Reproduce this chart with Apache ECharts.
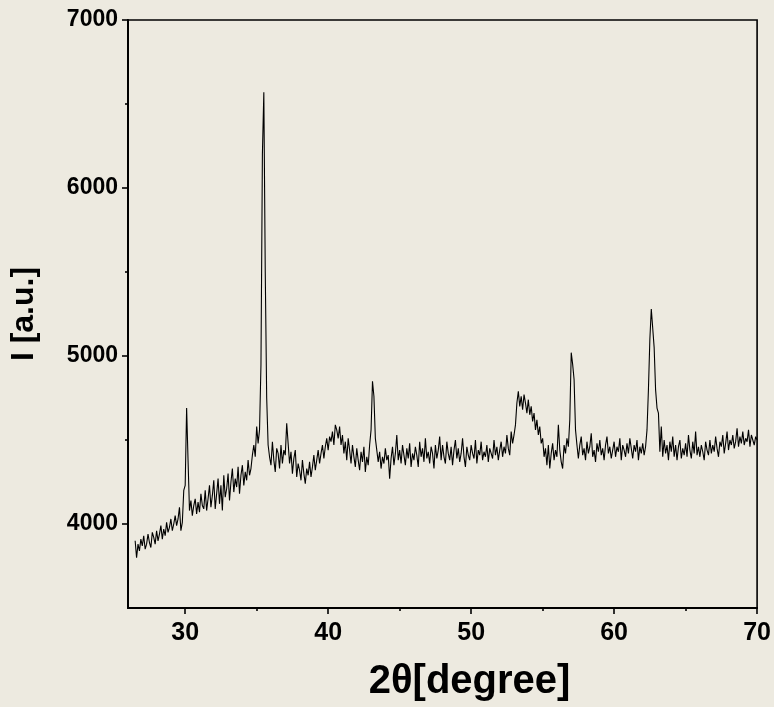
<!DOCTYPE html>
<html>
<head>
<meta charset="utf-8">
<script src="https://cdn.jsdelivr.net/npm/echarts@6/dist/echarts.min.js"></script>
<style>
html,body{margin:0;padding:0;background:#EDEAE0;}
#c{width:774px;height:707px;}
</style>
</head>
<body>
<div id="c"></div>
<script>
// scan grid (2θ, degrees)
const scanStart = 26.5;
const scanStep = 0.1;
// intensities (a.u.), one row per degree
const intensity = [
  3900, 3800, 3880, 3840, 3910,
  3870, 3930, 3850, 3880, 3940, 3890, 3860, 3950, 3920, 3880,
  3960, 3900, 3940, 3990, 3910, 3970, 3930, 4010, 3950, 3980,
  4030, 3960, 4000, 4050, 3990, 4030, 4100, 3960, 4010, 4200,
  4230, 4690, 4380, 4080, 4140, 4050, 4110, 4150, 4060, 4130,
  4070, 4180, 4110, 4090, 4200, 4080, 4150, 4230, 4100, 4170,
  4260, 4090, 4180, 4270, 4120, 4230, 4080, 4290, 4160, 4210,
  4300, 4140, 4250, 4330, 4190, 4270, 4220, 4340, 4180, 4290,
  4350, 4230, 4310, 4260, 4380, 4290, 4330, 4410, 4470, 4400,
  4580, 4480, 4560, 4950, 6200, 6570, 5500, 4750, 4470, 4400,
  4350, 4490, 4380, 4310, 4450, 4420, 4330, 4470, 4360, 4440,
  4410, 4600, 4480, 4360, 4430, 4300, 4390, 4440, 4280, 4360,
  4320, 4260, 4380, 4300, 4240, 4330, 4290, 4370, 4280, 4340,
  4410, 4320, 4380, 4440, 4360, 4420, 4470, 4390, 4460, 4510,
  4440, 4520, 4490, 4550, 4470, 4590, 4560, 4510, 4580, 4470,
  4530, 4420, 4490, 4380, 4510, 4440, 4360, 4470, 4400, 4340,
  4450, 4380, 4320, 4430, 4370, 4460, 4310, 4400, 4350, 4470,
  4560, 4850, 4760, 4510, 4500, 4370, 4430, 4330, 4400, 4360,
  4450, 4380, 4410, 4270, 4390, 4460, 4350, 4420, 4530, 4380,
  4440, 4360, 4470, 4410, 4350, 4450, 4390, 4480, 4340, 4420,
  4380, 4460, 4410, 4340, 4490, 4400, 4450, 4370, 4510, 4390,
  4430, 4360, 4460, 4420, 4330, 4470, 4390, 4440, 4520, 4380,
  4470, 4400, 4360, 4490, 4420, 4380, 4460, 4350, 4440, 4500,
  4390, 4450, 4370, 4420, 4510, 4400, 4340, 4460, 4410, 4380,
  4470, 4420, 4390, 4500, 4360, 4440, 4410, 4490, 4380, 4430,
  4400, 4470, 4370, 4450, 4420, 4390, 4500, 4410, 4460, 4380,
  4440, 4490, 4400, 4460, 4420, 4530, 4450, 4410, 4550, 4480,
  4530, 4590, 4720, 4790, 4700, 4760, 4680, 4770, 4720, 4660,
  4740, 4650, 4700, 4610, 4660, 4560, 4620, 4530, 4580, 4480,
  4510, 4400, 4450, 4350, 4470, 4330, 4420, 4480, 4380, 4440,
  4400, 4590, 4440, 4370, 4330, 4470, 4420, 4510, 4460, 4620,
  5020, 4950, 4860, 4560, 4470, 4390, 4470, 4520, 4410, 4450,
  4380, 4490, 4420, 4460, 4540, 4400, 4440, 4370, 4480, 4430,
  4500, 4410, 4450, 4380, 4470, 4520, 4420, 4460, 4390, 4440,
  4490, 4400, 4460, 4430, 4510, 4380, 4470, 4440, 4400, 4480,
  4420, 4510, 4450, 4390, 4470, 4430, 4500, 4380, 4460, 4420,
  4480, 4410, 4460, 4560, 4800, 5100, 5280, 5280, 5050, 4800,
  4690, 4660, 4430, 4580, 4400, 4500, 4420, 4470, 4380, 4490,
  4430, 4520, 4400, 4470, 4380, 4460, 4500, 4390, 4450, 4410,
  4480, 4400, 4530, 4440, 4390, 4490, 4420, 4550, 4410, 4460,
  4400, 4470, 4430, 4380, 4490, 4440, 4410, 4500, 4420, 4470,
  4430, 4520, 4450, 4400, 4490, 4460, 4530, 4420, 4480, 4550,
  4440, 4500, 4470, 4530, 4450, 4490, 4570, 4460, 4520, 4480,
  4550, 4470, 4510, 4490, 4560, 4460, 4530, 4500, 4470, 4520,
  4500
];
const xMajorTicks = [30, 40, 50, 60, 70];
const xMinorTicks = [35, 45, 55, 65];
const yMajorTicks = [4000, 5000, 6000, 7000];
const yMinorTicks = [4500, 5500, 6500];
const xTitle = '2θ[degree]';
const yTitle = 'I [a.u.]';

const data = intensity.map((v, i) => [+(scanStart + i * scanStep).toFixed(2), v]);

const font = '"Liberation Sans", Arial, sans-serif';
const chart = echarts.init(document.getElementById('c'), null, {renderer: 'canvas'});
const xRange = {min: 26, max: 70};
const yRange = {min: 3500, max: 7000};
const plain = v => String(v);
chart.setOption({
  backgroundColor: '#EDEAE0',
  animation: false,
  grid: {left: 128, right: 16, top: 20, bottom: 99, show: true, borderColor: '#000', borderWidth: 1.6, backgroundColor: 'transparent'},
  xAxis: [{
    type: 'value', ...xRange, position: 'bottom',
    axisLine: {show: true, onZero: false, lineStyle: {color: '#000', width: 2}},
    axisTick: {show: true, inside: false, length: 6, customValues: xMajorTicks, lineStyle: {color: '#000', width: 1.6}},
    axisLabel: {show: true, customValues: xMajorTicks, formatter: plain, margin: 13, color: '#000', fontFamily: font, fontWeight: 'bold', fontSize: 25},
    splitLine: {show: false},
    name: xTitle, nameLocation: 'middle', nameGap: 54,
    nameTextStyle: {color: '#000', fontFamily: font, fontWeight: 'bold', fontSize: 40, padding: [0, 0, 0, 54]}
  }, {
    type: 'value', ...xRange, position: 'bottom',
    axisLine: {show: false},
    axisTick: {show: true, length: 3, customValues: xMinorTicks, lineStyle: {color: '#000', width: 1.6}},
    axisLabel: {show: false}, splitLine: {show: false}
  }],
  yAxis: [{
    type: 'value', ...yRange, position: 'left',
    axisLine: {show: true, onZero: false, lineStyle: {color: '#000', width: 2}},
    axisTick: {show: true, inside: false, length: 6, customValues: yMajorTicks, lineStyle: {color: '#000', width: 1.6}},
    axisLabel: {show: true, customValues: yMajorTicks, formatter: plain, margin: 10, color: '#000', fontFamily: font, fontWeight: 'bold', fontSize: 23},
    splitLine: {show: false},
    name: yTitle, nameLocation: 'middle', nameGap: 88, nameRotate: 90,
    nameTextStyle: {color: '#000', fontFamily: font, fontWeight: 'bold', fontSize: 32}
  }, {
    type: 'value', ...yRange, position: 'left',
    axisLine: {show: false},
    axisTick: {show: true, length: 3, customValues: yMinorTicks, lineStyle: {color: '#000', width: 1.6}},
    axisLabel: {show: false}, splitLine: {show: false}
  }],
  series: [{
    type: 'line', xAxisIndex: 0, yAxisIndex: 0,
    data: data, showSymbol: false, symbol: 'none',
    lineStyle: {color: '#000', width: 1.1},
    silent: true
  }]
});
</script>
</body>
</html>
